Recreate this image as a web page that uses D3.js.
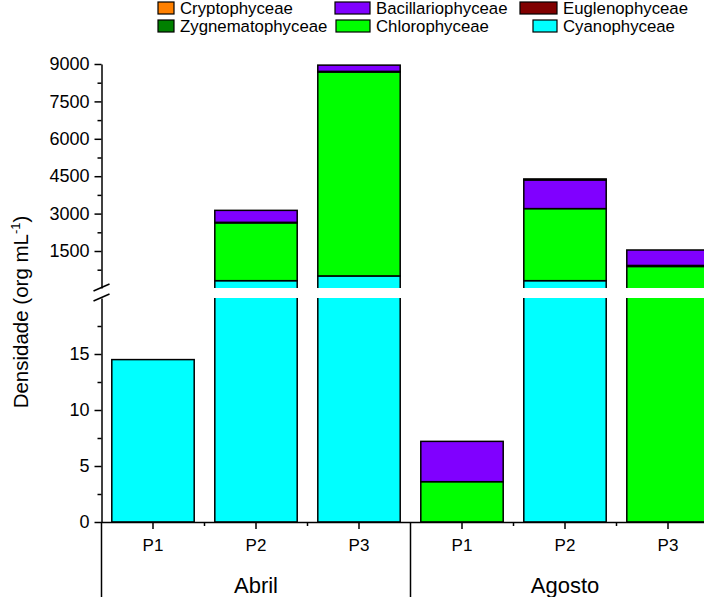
<!DOCTYPE html>
<html>
<head>
<meta charset="utf-8">
<script src="https://cdn.jsdelivr.net/npm/d3@7/dist/d3.min.js"></script>
<style>
  html, body { margin: 0; padding: 0; background: #fff; }
  svg { display: block; font-family: "Liberation Sans", Arial, sans-serif; }
</style>
</head>
<body>
<svg id="chart" width="704" height="597"></svg>
<script>
// Months and sampling points
const months = ["Abril", "Agosto"];
const points = ["P1", "P2", "P3"];

// Classes, listed from the bottom of each stack upward
const classes = ["Cyanophyceae", "Chlorophyceae", "Zygnematophyceae", "Euglenophyceae", "Bacillariophyceae", "Cryptophyceae"];
const colors = ["#00FFFF", "#00FF00", "#008000", "#800000", "#8000FF", "#FF8000"];

// Density (org mL-1) per bar: Abril P1..P3, Agosto P1..P3
const cyanophyceae      = [14.5, 310, 500, 0,   310,  0];
const chlorophyceae     = [0,   2320, 8180, 3.6, 2890, 880];
const zygnematophyceae  = [0,   0,    0,    0,   0,    0];
const euglenophyceae    = [0,   20,   25,   0,   0,    40];
const bacillariophyceae = [0,   480,  250,  3.6, 1150, 620];
const cryptophyceae     = [0,   0,    0,    0,   40,   0];

// Axis ticks for the two panels of the broken axis
const lowerTicks = [0, 5, 10, 15];
const lowerMinor = [2.5, 7.5, 12.5, 17.5];
const upperTicks = [1500, 3000, 4500, 6000, 7500, 9000];
const upperMinor = [750, 2250, 3750, 5250, 6750, 8250];

// Legend layout: [class, column, row]
const legendOrder = [
  ["Cryptophyceae", 0, 0], ["Bacillariophyceae", 1, 0], ["Euglenophyceae", 2, 0],
  ["Zygnematophyceae", 0, 1], ["Chlorophyceae", 1, 1], ["Cyanophyceae", 2, 1]
];

const series = [cyanophyceae, chlorophyceae, zygnematophyceae, euglenophyceae, bacillariophyceae, cryptophyceae];
const keys = [];
months.forEach(m => points.forEach(p => keys.push(m + "|" + p)));
const rows = keys.map((k, i) => {
  const r = { key: k };
  classes.forEach((c, j) => r[c] = series[j][i]);
  return r;
});
const stacked = d3.stack().keys(classes)(rows);
const color = d3.scaleOrdinal().domain(classes).range(colors);

const svg = d3.select("#chart");
const left = 101.5, axisY = 522;

const x = d3.scaleBand().domain(keys).range([left, 719.5]).paddingInner(0.2).paddingOuter(0.1);

// Lower panel 0–20, upper panel above the break
const yLow = d3.scaleLinear().domain([0, 20]).range([axisY, 298]);
const yHigh = d3.scaleLinear().domain([16, 9000]).range([288, 64]);
const lowTop = 298, highBottom = 288;

const defs = svg.append("defs");
defs.append("clipPath").attr("id", "clipLow").append("rect")
  .attr("x", 0).attr("y", lowTop).attr("width", 704).attr("height", axisY - lowTop + 2);
defs.append("clipPath").attr("id", "clipHigh").append("rect")
  .attr("x", 0).attr("y", 0).attr("width", 704).attr("height", highBottom);

const yLo = v => v > 20 ? lowTop - 6 : yLow(v);
const yUp = v => v < 16 ? highBottom + 6 : yHigh(v);

function drawPanel(clipId, yf) {
  const g = svg.append("g").attr("clip-path", `url(#${clipId})`);
  stacked.forEach(layer => {
    layer.forEach(d => {
      const v0 = d[0], v1 = d[1];
      if (v1 - v0 <= 0) return;
      const yTop = yf(v1), yBot = yf(v0);
      if (yBot - yTop <= 0) return;
      g.append("rect")
        .attr("x", x(d.data.key))
        .attr("width", x.bandwidth())
        .attr("y", yTop)
        .attr("height", yBot - yTop)
        .attr("fill", color(layer.key))
        .attr("stroke", "#000")
        .attr("stroke-width", 1.5);
    });
  });
}
drawPanel("clipLow", yLo);
drawPanel("clipHigh", yUp);

// Y axes
function styleAxis(g, size) {
  g.selectAll("text").attr("font-size", size || 17).attr("fill", "#000")
    .attr("font-family", "'Liberation Sans', Arial, sans-serif");
  g.selectAll("line").attr("stroke", "#000").attr("stroke-width", 1.5);
  g.selectAll("path.domain").attr("stroke", "#000").attr("stroke-width", 1.5);
}
const fmt = d3.format("d");
const gLow = svg.append("g").attr("transform", `translate(${left},0)`)
  .call(d3.axisLeft(yLow).tickValues(lowerTicks).tickFormat(fmt).tickSize(7).tickSizeOuter(0).tickPadding(5));
styleAxis(gLow, 18);
const gLowMinor = svg.append("g").attr("transform", `translate(${left},0)`)
  .call(d3.axisLeft(yLow).tickValues(lowerMinor).tickSize(4).tickFormat(""));
styleAxis(gLowMinor);
gLowMinor.select("path.domain").remove();

const gHigh = svg.append("g").attr("transform", `translate(${left},0)`)
  .call(d3.axisLeft(yHigh).tickValues(upperTicks).tickFormat(fmt).tickSize(7).tickSizeOuter(0).tickPadding(5));
styleAxis(gHigh, 18);
const gHighMinor = svg.append("g").attr("transform", `translate(${left},0)`)
  .call(d3.axisLeft(yHigh).tickValues(upperMinor).tickSize(4).tickFormat(""));
styleAxis(gHighMinor);
gHighMinor.select("path.domain").remove();

// Break marks on the y axis
const brk = svg.append("g").attr("stroke", "#000").attr("stroke-width", 1.5);
brk.append("line").attr("x1", left - 8).attr("y1", highBottom + 3).attr("x2", left + 8).attr("y2", highBottom - 4);
brk.append("line").attr("x1", left - 8).attr("y1", lowTop + 3).attr("x2", left + 8).attr("y2", lowTop - 4);

// X axis with point labels
const gx = svg.append("g").attr("transform", `translate(0,${axisY})`)
  .call(d3.axisBottom(x).tickSize(7).tickSizeOuter(0).tickPadding(10).tickFormat(k => k.split("|")[1]));
gx.select("path.domain").attr("d", `M${left},0.5H704`);
styleAxis(gx, 17);

// Short ticks between neighbouring bars of the same month
const minorX = [];
months.forEach(m => {
  for (let i = 1; i < points.length; i++) {
    const k = m + "|" + points[i];
    minorX.push(x(k) - x.step() * x.paddingInner() / 2);
  }
});
svg.append("g").selectAll("line").data(minorX).join("line")
  .attr("x1", d => d).attr("x2", d => d)
  .attr("y1", axisY).attr("y2", axisY + 4)
  .attr("stroke", "#000").attr("stroke-width", 1.5);

// Month separators and labels
const groupEdges = months.map(m => x(m + "|" + points[0]) - x.step() * x.paddingOuter());
groupEdges.push(x.range()[1]);
svg.append("g").selectAll("line").data(groupEdges).join("line")
  .attr("x1", d => d).attr("x2", d => d)
  .attr("y1", axisY).attr("y2", 597)
  .attr("stroke", "#000").attr("stroke-width", 1.5);

svg.append("g").selectAll("text").data(months).join("text")
  .attr("x", m => x(m + "|P2") + x.bandwidth() / 2)
  .attr("y", 593)
  .attr("text-anchor", "middle")
  .attr("font-size", 22)
  .text(m => m);

// Y title
const yt = svg.append("text")
  .attr("transform", "translate(28,312) rotate(-90)")
  .attr("text-anchor", "middle")
  .attr("font-size", 20.5);
yt.append("tspan").text("Densidade (org mL");
yt.append("tspan").attr("font-size", 13).attr("dy", -8).text("-1");
yt.append("tspan").attr("dy", 8).text(")");

// Legend: swatch extents and text start per column
const swatch = {
  "Cryptophyceae": [158, 174], "Zygnematophyceae": [158, 174],
  "Bacillariophyceae": [335, 370], "Chlorophyceae": [336, 370],
  "Euglenophyceae": [520, 557], "Cyanophyceae": [533, 557]
};
const textX = [180, 376, 563];
const baseY = [14, 32];
const lg = svg.append("g");
legendOrder.forEach(([name, c, r]) => {
  const [x0, x1] = swatch[name];
  lg.append("rect")
    .attr("x", x0).attr("y", baseY[r] - 12)
    .attr("width", x1 - x0).attr("height", 12)
    .attr("fill", color(name)).attr("stroke", "#000").attr("stroke-width", 1.2);
  lg.append("text")
    .attr("x", textX[c]).attr("y", baseY[r])
    .attr("font-size", 16.8)
    .text(name);
});
</script>
</body>
</html>
